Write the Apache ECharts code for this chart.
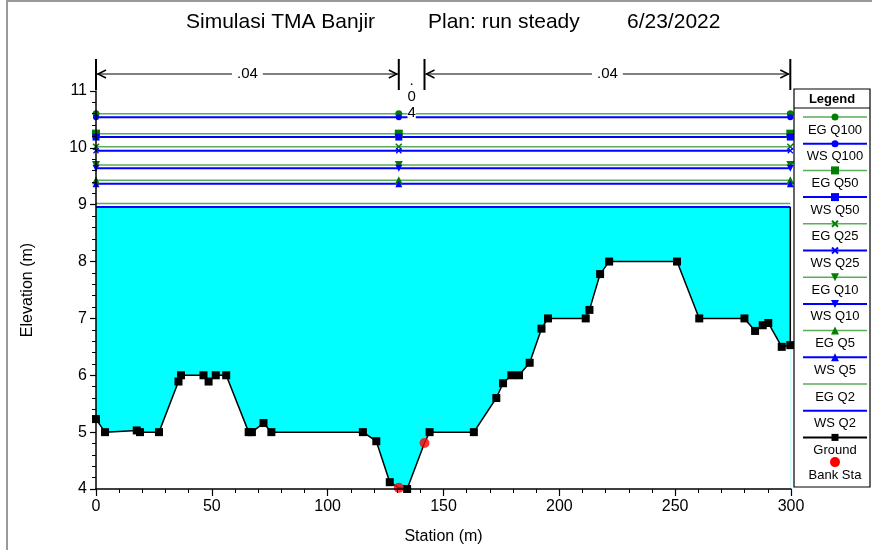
<!DOCTYPE html>
<html>
<head>
<meta charset="utf-8">
<script src="https://cdn.jsdelivr.net/npm/echarts@6/dist/echarts.min.js"></script>
<style>
  html, body { margin: 0; padding: 0; background: #fff; }
  #chart { width: 872px; height: 550px; }
</style>
</head>
<body>
<div id="chart"></div>
<script>
// ground survey points (station, elevation)
const groundSta = [0, 3.9, 17.6, 19, 27.2, 35.6, 36.7, 46.4, 48.6, 51.7, 56.2, 65.9, 67.3, 72.3, 75.7,
  115.2, 121, 126.8, 130.7, 134.3, 141.8, 144, 163.1, 172.8, 175.7, 179.3, 182.6, 187.2, 192.3, 195.1,
  211.4, 213, 217.6, 221.5, 250.8, 260.4, 279.9, 284.5, 287.8, 290.2, 296, 299.7];
const groundElev = [5.23, 5.0, 5.03, 5.0, 5.0, 5.89, 6.0, 6.0, 5.89, 6.0, 6.0, 5.0, 5.0, 5.16, 5.0,
  5.0, 4.84, 4.12, 4.02, 4.0, 4.81, 5.0, 5.0, 5.6, 5.86, 6.0, 6.0, 6.22, 6.82, 7.0,
  7.0, 7.15, 7.78, 8.0, 8.0, 7.0, 7.0, 6.78, 6.88, 6.92, 6.5, 6.53];

// bank stations
const bankSta = [130.7, 141.8];
const bankElev = [4.02, 4.81];

// profiles
const profiles = ['Q100', 'Q50', 'Q25', 'Q10', 'Q5', 'Q2'];
const egElev = [10.6, 10.25, 10.02, 9.70, 9.43, 9.02];
const wsElev = [10.54, 10.19, 9.95, 9.64, 9.37, 8.96];

// manning n per sub-section (left overbank, channel, right overbank)
const nValues = ['.04', '.04', '.04'];

const titleParts = ['Simulasi TMA Banjir', 'Plan: run steady', '6/23/2022'];

const FONT = "'Liberation Sans', Arial, sans-serif";
const NARROW = "'Liberation Sans Narrow', 'Liberation Sans', Arial, sans-serif";
const XSYM = 'path://M0,1.5L1.5,0L5,3.5L8.5,0L10,1.5L6.5,5L10,8.5L8.5,10L5,6.5L1.5,10L0,8.5L3.5,5Z';
const marks = [
  { symbol: 'circle', rotate: 0, size: 7 },
  { symbol: 'rect', rotate: 0, size: 8 },
  { symbol: XSYM, rotate: 0, size: 7 },
  { symbol: 'triangle', rotate: 180, size: 8 },
  { symbol: 'triangle', rotate: 0, size: 8 },
  { symbol: 'none', rotate: 0, size: 0 }
];
const EG_LINE = '#5aad5a', EG_MARK = '#008000', WS = '#0000ff';

const first = groundSta[0];
const last = groundSta[groundSta.length - 1];
// ground points that coincide with bank stations get no square (red dot shows there)
const ground = groundSta.map((s, i) =>
  bankSta.includes(s) ? { value: [s, groundElev[i]], symbol: 'none' } : [s, groundElev[i]]);
const wsQ2 = wsElev[wsElev.length - 1];

const series = [];
// water fill below lowest profile
series.push({
  name: 'WS ' + profiles[5], type: 'line', data: [[first, wsQ2], [last, wsQ2]],
  symbol: 'none', lineStyle: { color: WS, width: 2 },
  areaStyle: { color: '#00ffff', opacity: 1, origin: 'start' }, z: 2
});
series.push({
  name: 'Ground', type: 'line', data: ground, symbol: 'rect', symbolSize: 8,
  itemStyle: { color: '#000' }, lineStyle: { color: '#000', width: 1.5 },
  areaStyle: { color: '#fff', opacity: 1, origin: 'start' }, z: 3
});
series.push({
  name: 'edge', type: 'line', silent: true, symbol: 'none',
  data: [[last, groundElev[groundElev.length - 1]], [last, wsQ2]],
  lineStyle: { color: '#000', width: 1.5 }, z: 3
});
profiles.forEach((p, i) => {
  const m = marks[i];
  const pts = (v) => [[first, v], [bankSta[0], v], [last, v]];
  series.push({
    name: 'EG ' + p, type: 'line', data: pts(egElev[i]),
    symbol: m.symbol, symbolSize: m.size, symbolRotate: m.rotate, showAllSymbol: true,
    itemStyle: { color: EG_MARK }, lineStyle: { color: EG_LINE, width: 1.5 }, z: 4
  });
  if (i < profiles.length - 1) {
    series.push({
      name: 'WS ' + p, type: 'line', data: pts(wsElev[i]),
      symbol: m.symbol, symbolSize: m.size - 1, symbolRotate: m.rotate, showAllSymbol: true,
      itemStyle: { color: WS }, lineStyle: { color: WS, width: 2 }, z: 4
    });
  }
});
series.push({
  name: 'Bank Sta', type: 'scatter', data: bankSta.map((s, i) => [s, bankElev[i]]),
  symbol: 'circle', symbolSize: 10, itemStyle: { color: '#ff0000' }, z: 8
});

const chart = echarts.init(document.getElementById('chart'));
chart.setOption({
  animation: false,
  grid: { left: 96, right: 81, top: 91, bottom: 60 },
  xAxis: {
    type: 'value', min: 0, max: 300, interval: 50, z: 10,
    name: 'Station (m)', nameLocation: 'middle', nameGap: 40,
    nameTextStyle: { fontFamily: NARROW, fontSize: 16, color: '#000' },
    axisLine: { lineStyle: { color: '#000', width: 1.5 } },
    axisTick: { length: 7, lineStyle: { color: '#000', width: 1.2 } },
    minorTick: { show: true, splitNumber: 5, length: 4, lineStyle: { color: '#000', width: 1 } },
    axisLabel: { fontFamily: NARROW, fontSize: 16, color: '#000', margin: 10 },
    splitLine: { show: false }
  },
  yAxis: {
    type: 'value', min: 4, max: 11, interval: 1, z: 10,
    name: 'Elevation (m)', nameLocation: 'middle', nameGap: 60, nameRotate: 90,
    nameTextStyle: { fontFamily: NARROW, fontSize: 16, color: '#000' },
    axisLine: { lineStyle: { color: '#000', width: 1.5 } },
    axisTick: { length: 6, lineStyle: { color: '#000', width: 1.2 } },
    minorTick: { show: true, splitNumber: 5, length: 4, lineStyle: { color: '#000', width: 1 } },
    axisLabel: { fontFamily: NARROW, fontSize: 16, color: '#000', margin: 9 },
    splitLine: { show: false }
  },
  series: series
});

// --- graphics: title, frame, legend, n-value annotations
const g = [];
g.push({ type: 'rect', shape: { x: 7, y: 1, width: 900, height: 600 },
  style: { fill: 'none', stroke: '#999', lineWidth: 2 }, silent: true, z: 0 });
const titleX = [186, 428, 627];
titleParts.forEach((t, i) => g.push({ type: 'text', x: titleX[i], y: 22,
  style: { text: t, font: '21px ' + FONT, fill: '#000', verticalAlign: 'middle' } }));

// legend box
const lx = 794, ly = 89, lw = 76, lh = 398, cx = 835;
g.push({ type: 'rect', shape: { x: lx, y: ly, width: lw, height: lh },
  style: { fill: '#fff', stroke: '#000', lineWidth: 1.2 }, z: 20 });
g.push({ type: 'text', x: lx + lw / 2, y: 99, z: 21,
  style: { text: 'Legend', font: 'bold 13px ' + FONT, fill: '#000', align: 'center', verticalAlign: 'middle' } });
g.push({ type: 'line', shape: { x1: lx, y1: 108, x2: lx + lw, y2: 108 }, z: 21,
  style: { stroke: '#000', lineWidth: 1.2 } });

const legendItems = [];
profiles.forEach((p, i) => {
  legendItems.push({ name: 'EG ' + p, line: EG_LINE, mark: EG_MARK, m: marks[i] });
  legendItems.push({ name: 'WS ' + p, line: WS, mark: WS, m: marks[i] });
});
legendItems.push({ name: 'Ground', line: '#000', mark: '#000', m: { symbol: 'rect', rotate: 0, size: 7 } });

function symbolEl(m, color, x, y) {
  if (m.symbol === 'none') return null;
  const s = m.size;
  if (m.symbol === 'circle') return { type: 'circle', shape: { cx: x, cy: y, r: s / 2 }, style: { fill: color }, z: 22 };
  if (m.symbol === 'rect') return { type: 'rect', shape: { x: x - s / 2, y: y - s / 2, width: s, height: s }, style: { fill: color }, z: 22 };
  if (m.symbol === 'triangle') {
    const d = m.rotate ? -1 : 1;
    return { type: 'polygon', shape: { points: [[x, y - d * s / 2], [x - s / 2, y + d * s / 2], [x + s / 2, y + d * s / 2]] }, style: { fill: color }, z: 22 };
  }
  return { type: 'group', z: 22, children: [
    { type: 'line', shape: { x1: x - 3, y1: y - 3, x2: x + 3, y2: y + 3 }, style: { stroke: color, lineWidth: 2 }, z: 22 },
    { type: 'line', shape: { x1: x - 3, y1: y + 3, x2: x + 3, y2: y - 3 }, style: { stroke: color, lineWidth: 2 }, z: 22 }
  ] };
}

legendItems.forEach((it, i) => {
  const y = 117 + 26.7 * i;
  g.push({ type: 'line', shape: { x1: lx + 9, y1: y, x2: lx + lw - 3, y2: y }, z: 21,
    style: { stroke: it.line, lineWidth: it.line === EG_LINE ? 1.5 : 2 } });
  const el = symbolEl(it.m, it.mark, cx, y);
  if (el) g.push(el);
  g.push({ type: 'text', x: cx, y: y + 13, z: 21,
    style: { text: it.name, font: '13px ' + FONT, fill: '#000', align: 'center', verticalAlign: 'middle' } });
});
const by = 117 + 26.7 * legendItems.length - 2;
g.push({ type: 'circle', shape: { cx: cx, cy: by, r: 5 }, style: { fill: '#ff0000' }, z: 22 });
g.push({ type: 'text', x: cx, y: by + 13.5, z: 21,
  style: { text: 'Bank Sta', font: '13px ' + FONT, fill: '#000', align: 'center', verticalAlign: 'middle' } });

// manning n annotations above the plot
const breaks = [first, bankSta[0], bankSta[1], last];
const yTop = chart.convertToPixel({ gridIndex: 0 }, [0, 11])[1];
const ay = yTop - 17;
breaks.forEach((b) => {
  const x = chart.convertToPixel({ gridIndex: 0 }, [b, 11])[0];
  g.push({ type: 'line', shape: { x1: x, y1: yTop - 32, x2: x, y2: yTop - 1 },
    style: { stroke: '#000', lineWidth: 2 }, z: 15 });
});
nValues.forEach((n, j) => {
  const x1 = chart.convertToPixel({ gridIndex: 0 }, [breaks[j], 11])[0];
  const x2 = chart.convertToPixel({ gridIndex: 0 }, [breaks[j + 1], 11])[0];
  const mid = (x1 + x2) / 2;
  if (x2 - x1 > 60) {
    g.push({ type: 'line', shape: { x1: x1 + 1, y1: ay, x2: x2 - 1, y2: ay }, style: { stroke: '#000', lineWidth: 1.2 }, z: 15 });
    g.push({ type: 'polyline', shape: { points: [[x1 + 10, ay - 4], [x1 + 2, ay], [x1 + 10, ay + 4]] }, style: { stroke: '#000', lineWidth: 1.5, fill: 'none' }, z: 15 });
    g.push({ type: 'polyline', shape: { points: [[x2 - 10, ay - 4], [x2 - 2, ay], [x2 - 10, ay + 4]] }, style: { stroke: '#000', lineWidth: 1.5, fill: 'none' }, z: 15 });
    g.push({ type: 'text', x: mid, y: ay, z: 16,
      style: { text: n, font: '15px ' + FONT, fill: '#000', align: 'center', verticalAlign: 'middle',
        backgroundColor: '#fff', padding: [0, 5] } });
  } else {
    g.push({ type: 'text', x: mid, y: yTop - 18, z: 16,
      style: { text: n.split('').join('\n'), font: '15px ' + FONT, fill: '#000', align: 'center',
        verticalAlign: 'top', lineHeight: 16, backgroundColor: '#fff' } });
  }
});

chart.setOption({ graphic: g });
</script>
</body>
</html>
